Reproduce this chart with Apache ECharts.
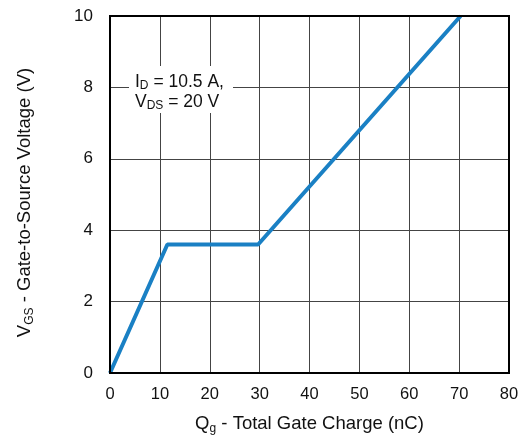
<!DOCTYPE html>
<html><head><meta charset="utf-8">
<script src="https://cdn.jsdelivr.net/npm/echarts@6/dist/echarts.min.js"></script>
<style>html,body{margin:0;padding:0;background:#fff}#c{width:523px;height:438px}</style>
</head><body><div id="c"></div>
<script>
const qg = [0, 11.5, 29.7, 70.3];
const vgs = [0, 3.6, 3.6, 10];
const xTicks = [0, 10, 20, 30, 40, 50, 60, 70, 80];
const yTicks = [0, 2, 4, 6, 8, 10];

const chart = echarts.init(document.getElementById('c'));
const font = 'Liberation Sans, Arial, sans-serif';
chart.setOption({
  animation: false,
  grid: {left: 110, right: 14, top: 16, bottom: 65, show: true, borderColor: '#000', borderWidth: 2, z: 5, outerBoundsMode: 'none', containLabel: false},
  xAxis: {
    type: 'value', min: xTicks[0], max: xTicks[xTicks.length - 1], interval: 10,
    axisLine: {show: false}, axisTick: {show: false},
    splitLine: {show: true, lineStyle: {color: '#444', width: 1}},
    axisLabel: {color: '#111', fontSize: 16.5, fontFamily: font, margin: 13},
    name: '{n|Q}{s|g}{n| - Total Gate Charge (nC)}',
    nameLocation: 'middle', nameGap: 40,
    nameTextStyle: {rich: {n: {fontSize: 18.5, fontFamily: font, color: '#111'}, s: {fontSize: 12, fontFamily: font, color: '#111', verticalAlign: 'bottom', padding: [10, 0, 0, 0]}}}
  },
  yAxis: {
    type: 'value', min: yTicks[0], max: yTicks[yTicks.length - 1], interval: 2,
    axisLine: {show: false}, axisTick: {show: false},
    splitLine: {show: true, lineStyle: {color: '#444', width: 1}},
    axisLabel: {color: '#111', fontSize: 17, fontFamily: font, margin: 17},
    name: '{n|V}{s|GS}{n| - Gate-to-Source Voltage (V)}',
    nameLocation: 'middle', nameGap: 74, nameRotate: 90,
    nameTextStyle: {padding: [0, 16, 0, 0], rich: {n: {fontSize: 18.5, fontFamily: font, color: '#111'}, s: {fontSize: 12, fontFamily: font, color: '#111', verticalAlign: 'bottom', padding: [10, 0, 0, 0]}}}
  },
  series: [{
    type: 'line', data: qg.map((x, i) => [x, vgs[i]]),
    symbol: 'none', lineStyle: {color: '#1a80c4', width: 4}, z: 3
  }],
  graphic: [{
    type: 'rect', left: 129, top: 66, shape: {width: 104, height: 47}, style: {fill: '#fff'}, z: 10
  }, {
    type: 'text', left: 135, top: 71, z: 11,
    style: {
      text: '{n|I}{s|D}{n| = 10.5 A,}\n{n|V}{s|DS}{n| = 20 V}',
      rich: {n: {fontSize: 17.5, fontFamily: font, fill: '#111', lineHeight: 20}, s: {fontSize: 12, fontFamily: font, fill: '#111', verticalAlign: 'bottom', padding: [9, 0, 0, 0], lineHeight: 20}}
    }
  }]
});
</script></body></html>
